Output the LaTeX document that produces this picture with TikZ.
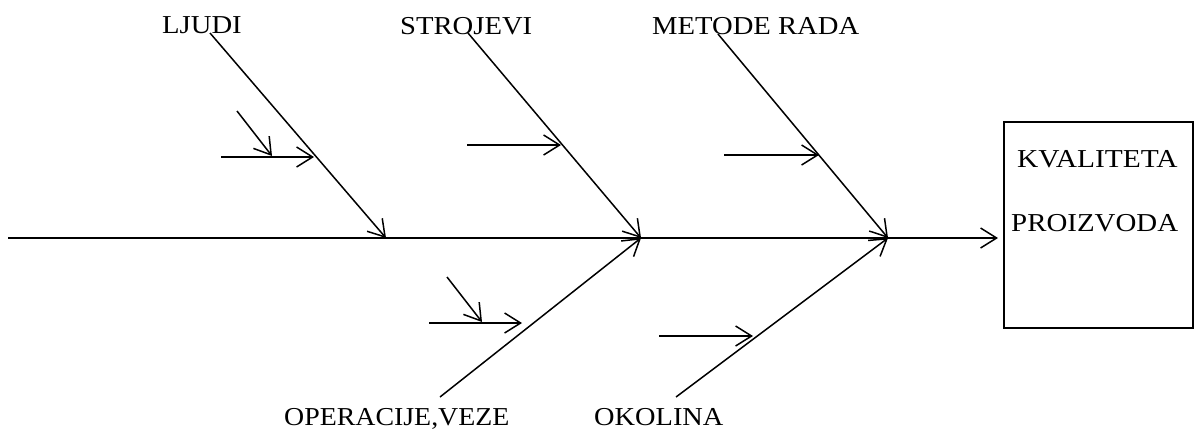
\documentclass[tikz,border=0pt]{standalone}
\usepackage{fontspec}
\setmainfont{Liberation Serif}
\usetikzlibrary{arrows.meta}
\begin{document}
\begin{tikzpicture}[x=1pt,y=-1pt,
  line/.style={line width=1.5pt},
  arr/.style={line, -{Straight Barb[length=16pt,width=20pt,line width=1.5pt]}},
  lbl/.style={anchor=base west, inner sep=0pt, font=\fontsize{25.8}{30}\selectfont}]
\useasboundingbox (0,0) rectangle (1195,432);
% spine
\coordinate (s0) at (8,238);
\coordinate (s1) at (998,238);
\coordinate (j1) at (386,238);
\coordinate (j2) at (641,238);
\coordinate (j3) at (888,238);
% bone ends
\coordinate (t1) at (210,33);
\coordinate (t2) at (468,33);
\coordinate (t3) at (718,34);
\coordinate (b2) at (440,397);
\coordinate (b3) at (676,397);
% sub-causes
\coordinate (a1s) at (221,157); \coordinate (a1e) at (314,157);
\coordinate (d1s) at (237,111); \coordinate (d1e) at (272,156);
\coordinate (a2s) at (467,145); \coordinate (a2e) at (561,145);
\coordinate (a3s) at (724,155); \coordinate (a3e) at (819,155);
\coordinate (a4s) at (429,323); \coordinate (a4e) at (522,323);
\coordinate (d4s) at (447,277); \coordinate (d4e) at (482,322);
\coordinate (a5s) at (659,336); \coordinate (a5e) at (753,336);
% box
\node[draw, line width=1.5pt, minimum width=189pt, minimum height=206pt, inner sep=0pt] (box) at (1098.5,225) {};
% labels
\node[lbl] (ljudi) at (162,33.3) {\scalebox{1.11}[1]{LJUDI}};
\node[lbl] (stroj) at (400,34.3) {\scalebox{1.11}[1]{STROJEVI}};
\node[lbl] (metode) at (652,34.3) {\scalebox{1.11}[1]{METODE RADA}};
\node[lbl] (oper) at (284,425) {\scalebox{1.08}[1]{OPERACIJE,VEZE}};
\node[lbl] (okol) at (594,425) {\scalebox{1.1}[1]{OKOLINA}};
\node[lbl] (kval) at (1017,167.3) {\scalebox{1.14}[1]{KVALITETA}};
\node[lbl] (proiz) at (1011,231) {\scalebox{1.12}[1]{PROIZVODA}};
% drawing
\draw[arr] (s0) -- (s1);
\draw[arr] (t1) -- (j1);
\draw[arr] (t2) -- (j2);
\draw[arr] (t3) -- (j3);
\draw[arr] (b2) -- (j2);
\draw[arr] (b3) -- (j3);
\draw[arr] (a1s) -- (a1e);
\draw[arr] (d1s) -- (d1e);
\draw[arr] (a2s) -- (a2e);
\draw[arr] (a3s) -- (a3e);
\draw[arr] (a4s) -- (a4e);
\draw[arr] (d4s) -- (d4e);
\draw[arr] (a5s) -- (a5e);
\end{tikzpicture}
\end{document}
